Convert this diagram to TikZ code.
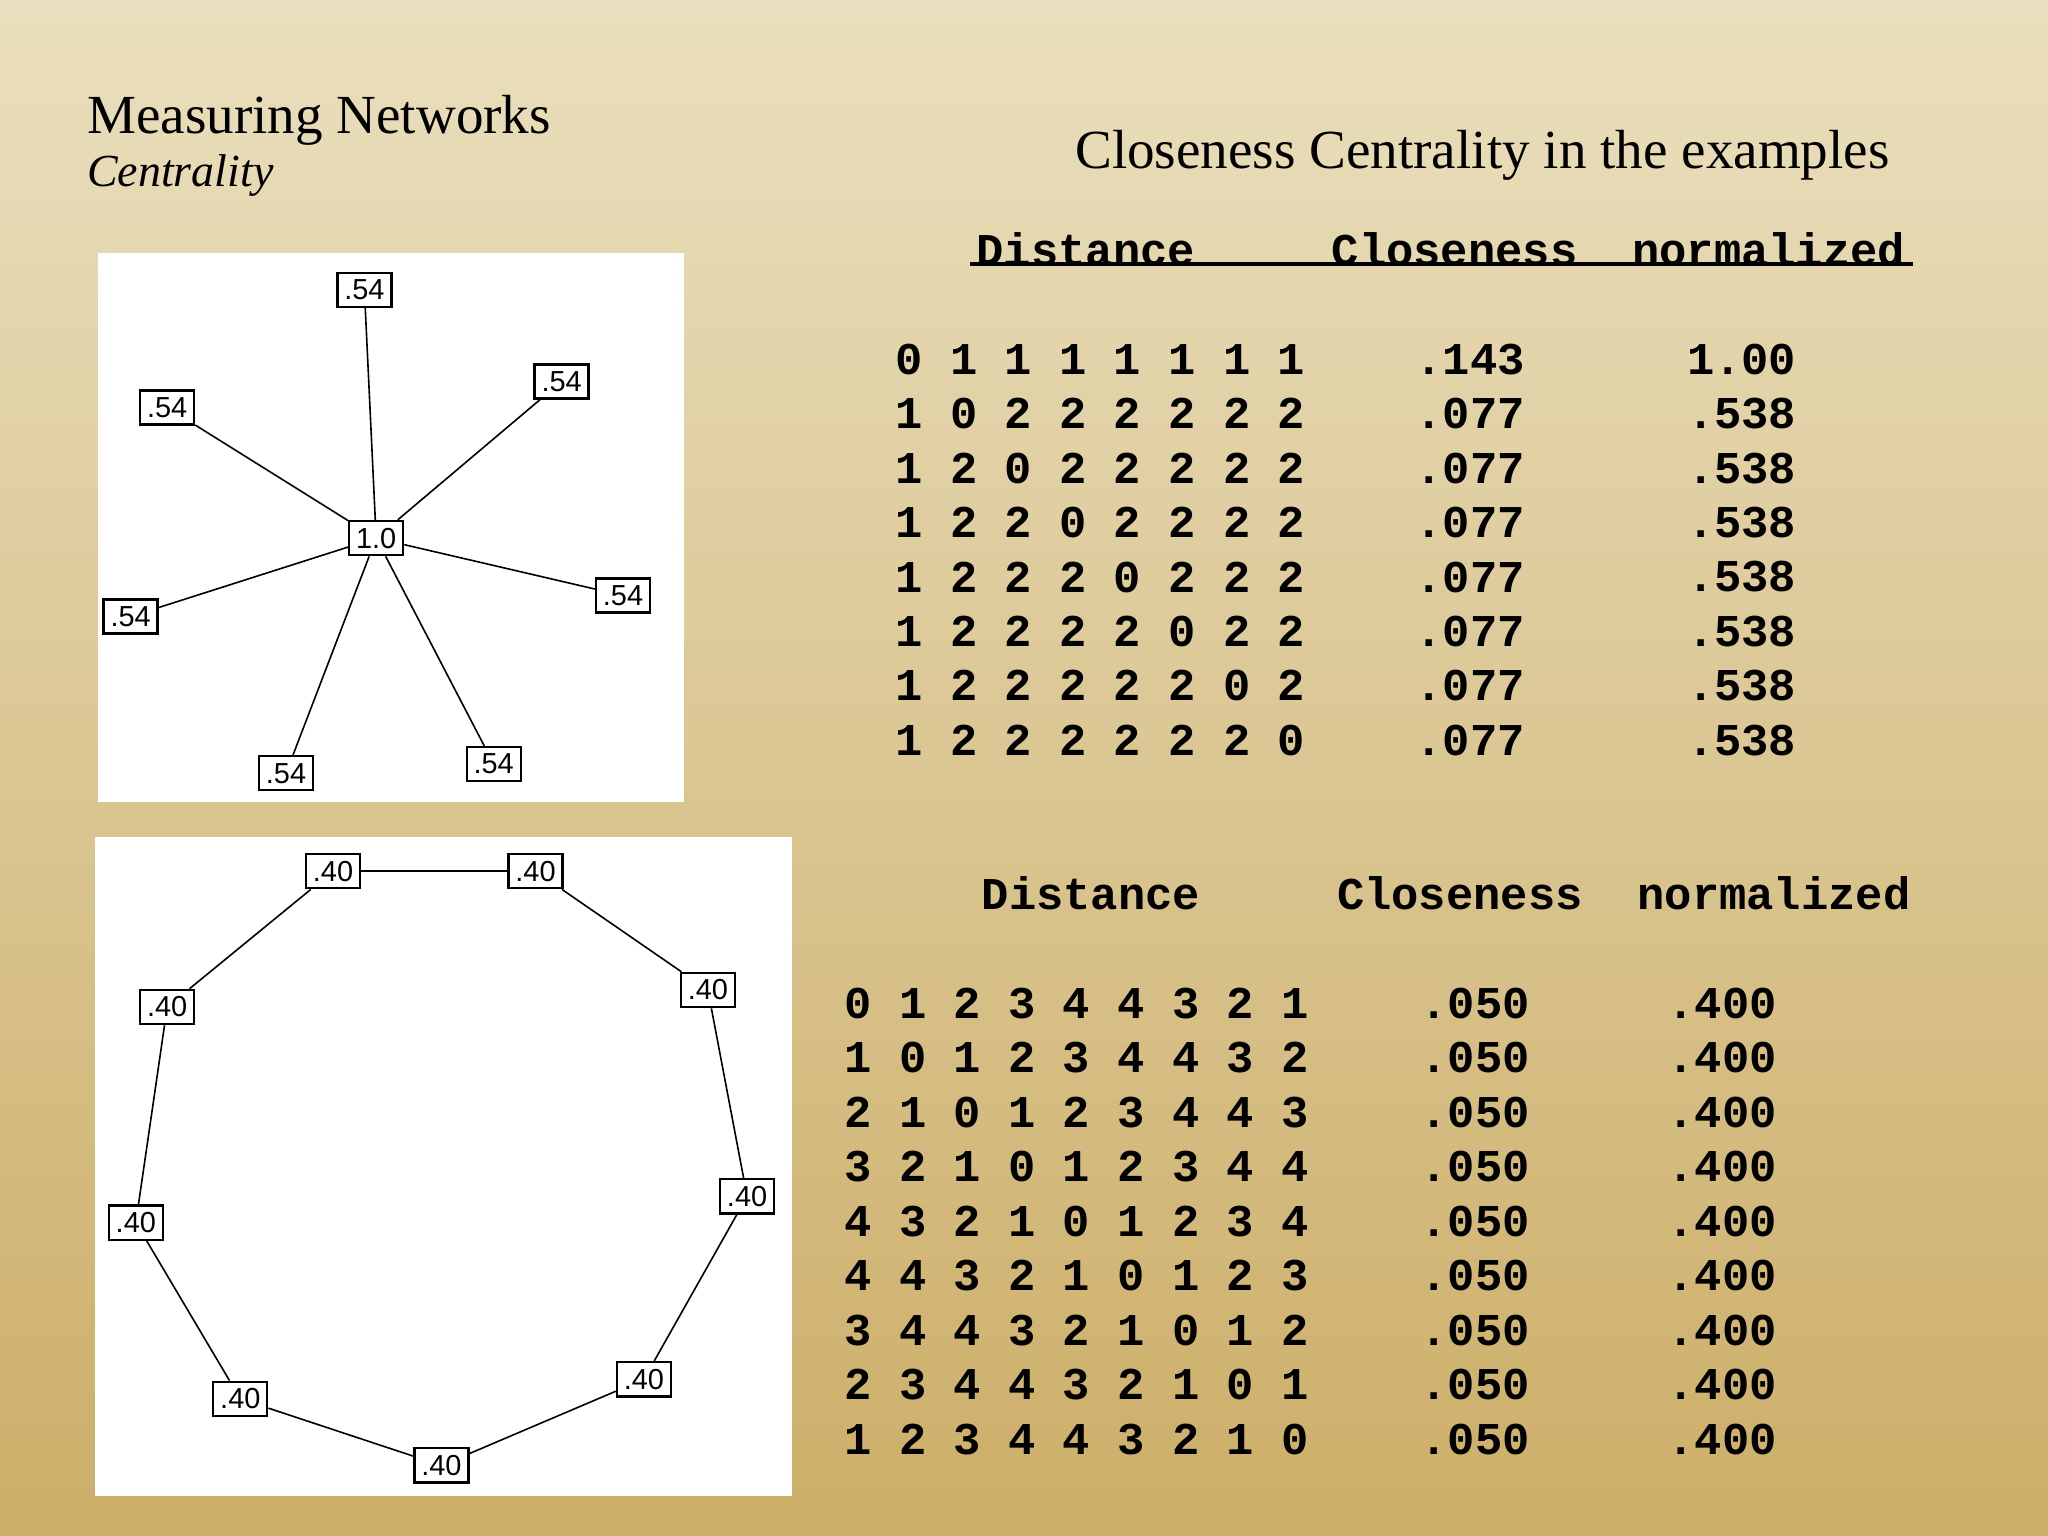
\documentclass[tikz,border=0pt]{standalone}
\usepackage{fontspec}
\setmainfont{Liberation Serif}
\setmonofont{Liberation Mono}
\setsansfont{Liberation Sans}
\begin{document}
\begin{tikzpicture}[x=0.01cm,y=-0.01cm,
  lab/.style={draw,fill=white,font=\sffamily\fontsize{6.3}{7}\selectfont,inner sep=1.5pt,line width=0.5pt},
  edge/.style={line width=0.35pt},
  tab/.style={anchor=west,font=\ttfamily\bfseries\fontsize{9.9}{10}\selectfont,inner sep=0pt}]
\definecolor{bgtop}{RGB}{234,223,190}
\definecolor{bgbot}{RGB}{204,174,104}
\shade[top color=bgtop,bottom color=bgbot] (0,0) rectangle (1568,1176);
\useasboundingbox (0,0) rectangle (1568,1176);
\node[anchor=base west,inner sep=0,font=\fontsize{12}{14}\selectfont] (t1) at (66,102) {Measuring Networks};
\node[anchor=base west,inner sep=0,font=\itshape\fontsize{10}{12}\selectfont] (t2) at (66,143) {Centrality};
\node[anchor=base,inner sep=0,font=\fontsize{12}{14}\selectfont] (t3) at (1135,129) {Closeness Centrality in the examples};
% star
\fill[white] (75,194) rectangle (524,614);
\node[lab] (c) at (288,412) {1.0};
\foreach \n/\x/\y in {a/279/222,b/128/312,d/430/292,e/100/472,f/477/456,g/219/592,h/378/585}{
  \node[lab] (\n) at (\x,\y) {.54};
  \draw[edge] (c) -- (\n);}
% ring
\fill[white] (73,641) rectangle (606,1145);
\foreach \i/\x/\y in {1/255/667,2/410/667,3/542/758,4/572/916,5/493/1056,6/338/1122,7/184/1071,8/104/936,9/128/771}{
  \node[lab] (r\i) at (\x,\y) {.40};}
\foreach \i/\j in {1/2,2/3,3/4,4/5,5/6,6/7,7/8,8/9,9/1}{\draw[edge] (r\i) -- (r\j);}
% top table
\node[tab] (h1) at (747,191) {Distance};
\node[tab] (h2) at (1019,191) {Closeness};
\node[tab] (h3) at (1249,191) {normalized};
\coordinate (u1) at (743,202); \coordinate (u2) at (1465,202);
\draw[line width=1pt] (u1) -- (u2);
\foreach \r/\d/\c/\nn in {0/{0 1 1 1 1 1 1 1}/.143/1.00,1/{1 0 2 2 2 2 2 2}/.077/.538,2/{1 2 0 2 2 2 2 2}/.077/.538,3/{1 2 2 0 2 2 2 2}/.077/.538,4/{1 2 2 2 0 2 2 2}/.077/.538,5/{1 2 2 2 2 0 2 2}/.077/.538,6/{1 2 2 2 2 2 0 2}/.077/.538,7/{1 2 2 2 2 2 2 0}/.077/.538}{
  \node[tab] (ta\r) at (685,275+41.7*\r) {\d};
  \node[tab] (tb\r) at (1083,275+41.7*\r) {\c};
  \node[tab] (tc\r) at (1291,275+41.7*\r) {\nn};}
% bottom table
\node[tab] (k1) at (751,684) {Distance};
\node[tab] (k2) at (1023,684) {Closeness};
\node[tab] (k3) at (1253,684) {normalized};
\foreach \r/\d in {0/{0 1 2 3 4 4 3 2 1},1/{1 0 1 2 3 4 4 3 2},2/{2 1 0 1 2 3 4 4 3},3/{3 2 1 0 1 2 3 4 4},4/{4 3 2 1 0 1 2 3 4},5/{4 4 3 2 1 0 1 2 3},6/{3 4 4 3 2 1 0 1 2},7/{2 3 4 4 3 2 1 0 1},8/{1 2 3 4 4 3 2 1 0}}{
  \node[tab] (ba\r) at (646,768+41.75*\r) {\d};
  \node[tab] (bb\r) at (1087,768+41.75*\r) {.050};
  \node[tab] (bc\r) at (1276,768+41.75*\r) {.400};}
\end{tikzpicture}
\end{document}
